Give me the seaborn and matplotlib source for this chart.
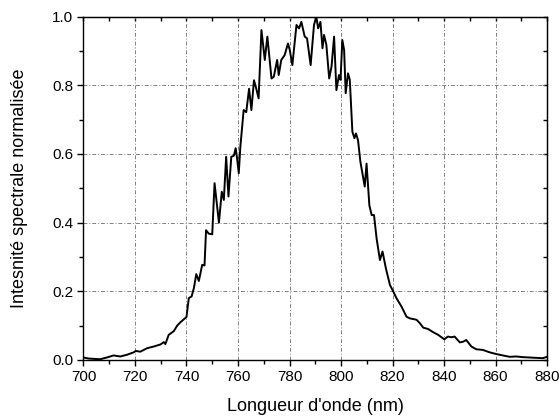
import numpy as np
import pandas as pd
import seaborn as sns
import matplotlib
matplotlib.use("Agg")
import matplotlib.pyplot as plt
from matplotlib.ticker import MultipleLocator, FormatStrFormatter

# spectre (nm, intensite normalisee)
wavelength = [
    700.0, 702.0, 703.9, 706.5, 709.1, 711.7, 714.3, 716.9, 719.5, 720.3,
    722.1, 724.7, 727.3, 729.9, 731.2, 731.8, 733.1, 735.1, 736.4, 737.7,
    739.2, 740.0, 740.9, 742.0, 742.9, 743.8, 744.8, 746.1, 747.0, 747.6,
    748.6, 750.0, 750.9, 752.0, 752.6, 753.7, 754.5, 755.4, 756.3, 757.4,
    758.4, 759.1, 759.6, 760.3, 760.9, 762.2, 763.2, 764.3, 765.2, 766.2,
    767.1, 768.0, 769.1, 770.4, 771.4, 773.0, 773.9, 775.2, 775.8, 776.8,
    778.1, 779.4, 780.1, 781.1, 782.7, 783.7, 784.6, 785.9, 786.8, 788.2,
    789.5, 790.4, 791.1, 792.0, 792.8, 793.4, 794.3, 795.4, 796.3, 797.3,
    798.2, 799.2, 799.8, 800.5, 801.2, 801.8, 802.7, 803.4, 804.4, 805.2,
    805.8, 806.6, 807.5, 809.2, 809.9, 811.0, 811.9, 812.8, 813.8, 815.1,
    816.1, 817.4, 819.0, 820.3, 821.5, 823.5, 825.4, 826.7, 829.3, 830.6,
    831.9, 833.8, 835.7, 837.7, 840.1, 841.5, 842.8, 844.1, 846.1, 847.4,
    848.6, 850.6, 852.5, 855.1, 857.7, 860.3, 862.8, 865.4, 868.0, 870.6,
    873.2, 875.7, 878.3, 880.0,
]
intensity = [
    0.007, 0.004, 0.003, 0.002, 0.007, 0.013, 0.010, 0.015, 0.022, 0.026,
    0.024, 0.034, 0.039, 0.045, 0.052, 0.046, 0.073, 0.084, 0.100, 0.110,
    0.120, 0.125, 0.180, 0.185, 0.210, 0.250, 0.230, 0.277, 0.275, 0.378,
    0.368, 0.366, 0.515, 0.440, 0.400, 0.490, 0.466, 0.592, 0.476, 0.592,
    0.595, 0.617, 0.590, 0.544, 0.620, 0.728, 0.722, 0.790, 0.728, 0.815,
    0.790, 0.762, 0.961, 0.874, 0.942, 0.820, 0.825, 0.874, 0.830, 0.874,
    0.888, 0.922, 0.903, 0.859, 0.976, 0.966, 0.985, 0.942, 0.937, 0.859,
    0.976, 1.000, 0.966, 0.985, 0.908, 0.947, 0.918, 0.820, 0.854, 0.942,
    0.786, 0.830, 0.816, 0.932, 0.903, 0.777, 0.835, 0.816, 0.665, 0.646,
    0.660, 0.640, 0.578, 0.505, 0.572, 0.450, 0.422, 0.422, 0.354, 0.291,
    0.316, 0.267, 0.218, 0.199, 0.180, 0.155, 0.126, 0.121, 0.117, 0.107,
    0.094, 0.090, 0.081, 0.073, 0.060, 0.068, 0.066, 0.068, 0.051, 0.053,
    0.058, 0.039, 0.031, 0.029, 0.022, 0.017, 0.013, 0.009, 0.010, 0.008,
    0.007, 0.006, 0.005, 0.009,
]

sns.set_style("ticks")
plt.rcParams["font.family"] = ["Liberation Sans", "DejaVu Sans"]

df = pd.DataFrame({"wl": wavelength, "I": intensity})

fig = plt.figure(figsize=(5.6, 4.18), dpi=100)
ax = fig.add_axes([0.149, 0.139, 0.828, 0.821])

sns.lineplot(data=df, x="wl", y="I", color="black", lw=1.4, ax=ax)

ax.set_xlim(700, 880)
ax.set_ylim(0, 1.0)
ax.xaxis.set_major_locator(MultipleLocator(20))
ax.xaxis.set_minor_locator(MultipleLocator(10))
ax.yaxis.set_major_locator(MultipleLocator(0.2))
ax.yaxis.set_minor_locator(MultipleLocator(0.1))
ax.yaxis.set_major_formatter(FormatStrFormatter("%.1f"))

ax.grid(True, which="major", color="#808080", lw=0.7, linestyle=(0, (4, 2, 1, 2)))
for s in ax.spines.values():
    s.set_visible(True)
    s.set_linewidth(1.0)
    s.set_color("black")

ax.tick_params(which="major", direction="out", length=4, width=1, labelsize=11,
               colors="black")
ax.tick_params(which="minor", direction="out", length=3, width=1, colors="black")

top = ax.secondary_xaxis("top")
top.xaxis.set_major_locator(MultipleLocator(10))
top.tick_params(direction="in", length=3, width=1, labeltop=False, colors="black")
right = ax.secondary_yaxis("right")
right.yaxis.set_major_locator(MultipleLocator(0.1))
right.tick_params(direction="in", length=3, width=1, labelright=False, colors="black")

ax.set_xlabel("Longueur d'onde (nm)", fontsize=13, labelpad=10, color="black")
ax.set_ylabel("Intesnité spectrale normalisée", fontsize=13, labelpad=17, color="black")

fig.savefig("out.png", dpi=100)
